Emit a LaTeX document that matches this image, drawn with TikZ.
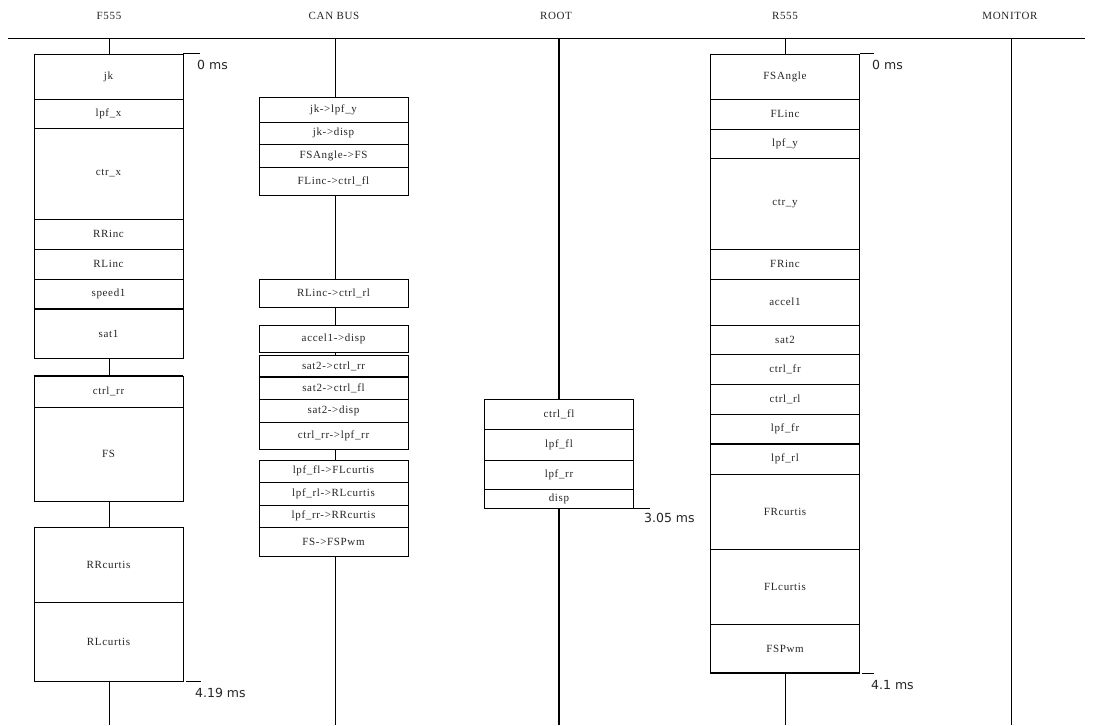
\documentclass[tikz,border=0pt]{standalone}
\usepackage{fontspec}
\setmainfont{Liberation Serif}
\newfontfamily\lblfont[LetterSpace=6]{Liberation Serif}
\newfontfamily\msfont{DejaVu Sans}
\newcommand\rowbox[5]{\node[rowbox, minimum height={#4pt-#3pt}] (#1) at ({#2+74.5},{(#3+#4)/2}) {#5};}
\begin{document}
\begin{tikzpicture}[x=1pt,y=-1pt,
  rowbox/.style={draw, fill=white, line width=0.9pt, minimum width=149pt, inner sep=0pt,
    font=\lblfont\fontsize{11}{13}\selectfont, text=black!85},
  lifeline/.style={line width=0.9pt},
  rootline/.style={line width=2.4pt},
  sepline/.style={line width=2pt},
  tick/.style={line width=0.9pt},
  mslabel/.style={anchor=west, inner sep=0pt, font=\msfont\fontsize{12.5}{14}\selectfont, text=black!85},
  header/.style={inner sep=0pt, font=\lblfont\fontsize{11}{13}\selectfont, text=black!85}]
\useasboundingbox (0,0) rectangle (1110,725);
\fill[white] (0,0) rectangle (1110,725);

% header line and titles
\coordinate (hl) at (8,38);
\coordinate (hr) at (1085,38);
\draw[lifeline] (hl) -- (hr);
\node[header] (hF) at (109,16) {F555};
\node[header] (hC) at (334,16) {CAN BUS};
\node[header] (hR) at (556,16) {ROOT};
\node[header] (hS) at (785,16) {R555};
\node[header] (hM) at (1010,16) {MONITOR};

% lifelines
\coordinate (Ft) at (109,38);  \coordinate (Fb) at (109,725);
\coordinate (Ct) at (335,38);  \coordinate (Cb) at (335,725);
\coordinate (Rt) at (559,38);  \coordinate (Rb) at (559,725);
\coordinate (St) at (785,38);  \coordinate (Sb) at (785,725);
\coordinate (Mt) at (1011,38); \coordinate (Mb) at (1011,725);
\draw[lifeline] (Ft) -- (Fb);
\draw[lifeline] (Ct) -- (Cb);
\draw[rootline] (Rt) -- (Rb);
\draw[lifeline] (St) -- (Sb);
\draw[lifeline] (Mt) -- (Mb);

% F555
\rowbox{f1}{34}{54}{99}{jk}
\rowbox{f2}{34}{99}{128}{lpf\_x}
\rowbox{f3}{34}{128}{219}{ctr\_x}
\rowbox{f4}{34}{219}{249}{RRinc}
\rowbox{f5}{34}{249}{279}{RLinc}
\rowbox{f6}{34}{279}{309}{speed1}
\rowbox{f7}{34}{309}{358}{sat1}
\rowbox{f8}{34}{376}{407}{ctrl\_rr}
\rowbox{f9}{34}{407}{501}{FS}
\rowbox{f10}{34}{527}{602}{RRcurtis}
\rowbox{f11}{34}{602}{681}{RLcurtis}
\draw[sepline] (f6.south west) -- (f6.south east);
\draw[sepline] (f8.north west) -- (f8.north east);

% CAN BUS
\rowbox{c1}{259}{97}{122}{jk->lpf\_y}
\rowbox{c2}{259}{122}{144}{jk->disp}
\rowbox{c3}{259}{144}{167}{FSAngle->FS}
\rowbox{c4}{259}{167}{195}{FLinc->ctrl\_fl}
\rowbox{c5}{259}{279}{307}{RLinc->ctrl\_rl}
\rowbox{c6}{259}{325}{352}{accel1->disp}
\rowbox{c7}{259}{355}{377}{sat2->ctrl\_rr}
\rowbox{c8}{259}{377}{399}{sat2->ctrl\_fl}
\rowbox{c9}{259}{399}{422}{sat2->disp}
\rowbox{c10}{259}{422}{449}{ctrl\_rr->lpf\_rr}
\rowbox{c11}{259}{460}{482}{lpf\_fl->FLcurtis}
\rowbox{c12}{259}{482}{505}{lpf\_rl->RLcurtis}
\rowbox{c13}{259}{505}{527}{lpf\_rr->RRcurtis}
\rowbox{c14}{259}{527}{556}{FS->FSPwm}
\draw[sepline] (c7.south west) -- (c7.south east);

% ROOT
\rowbox{r1}{484.5}{399}{429}{ctrl\_fl}
\rowbox{r2}{484.5}{429}{460}{lpf\_fl}
\rowbox{r3}{484.5}{460}{489}{lpf\_rr}
\rowbox{r4}{484.5}{489}{508}{disp}

% R555
\rowbox{s1}{710.5}{54}{99}{FSAngle}
\rowbox{s2}{710.5}{99}{129}{FLinc}
\rowbox{s3}{710.5}{129}{158}{lpf\_y}
\rowbox{s4}{710.5}{158}{249}{ctr\_y}
\rowbox{s5}{710.5}{249}{279}{FRinc}
\rowbox{s6}{710.5}{279}{325}{accel1}
\rowbox{s7}{710.5}{325}{354}{sat2}
\rowbox{s8}{710.5}{354}{384}{ctrl\_fr}
\rowbox{s9}{710.5}{384}{414}{ctrl\_rl}
\rowbox{s10}{710.5}{414}{444}{lpf\_fr}
\rowbox{s11}{710.5}{444}{474}{lpf\_rl}
\rowbox{s12}{710.5}{474}{549}{FRcurtis}
\rowbox{s13}{710.5}{549}{624}{FLcurtis}
\rowbox{s14}{710.5}{624}{673}{FSPwm}
\draw[sepline] (s10.south west) -- (s10.south east);
\draw[sepline] (s14.south west) -- (s14.south east);

% time marks
\draw[tick] (f1.north east) -- ++(17,0);
\node[mslabel] (t1) at (197,65) {0 ms};
\draw[tick] ([xshift=3pt]f11.south east) -- ++(15,0);
\node[mslabel] (t2) at (195,693) {4.19 ms};
\draw[tick] (r4.south east) -- ++(16,0);
\node[mslabel] (t3) at (644,518) {3.05 ms};
\draw[tick] (s1.north east) -- ++(14,0);
\node[mslabel] (t4) at (872,65) {0 ms};
\draw[tick] ([xshift=2pt]s14.south east) -- ++(12,0);
\node[mslabel] (t5) at (871,685) {4.1 ms};
\end{tikzpicture}
\end{document}
